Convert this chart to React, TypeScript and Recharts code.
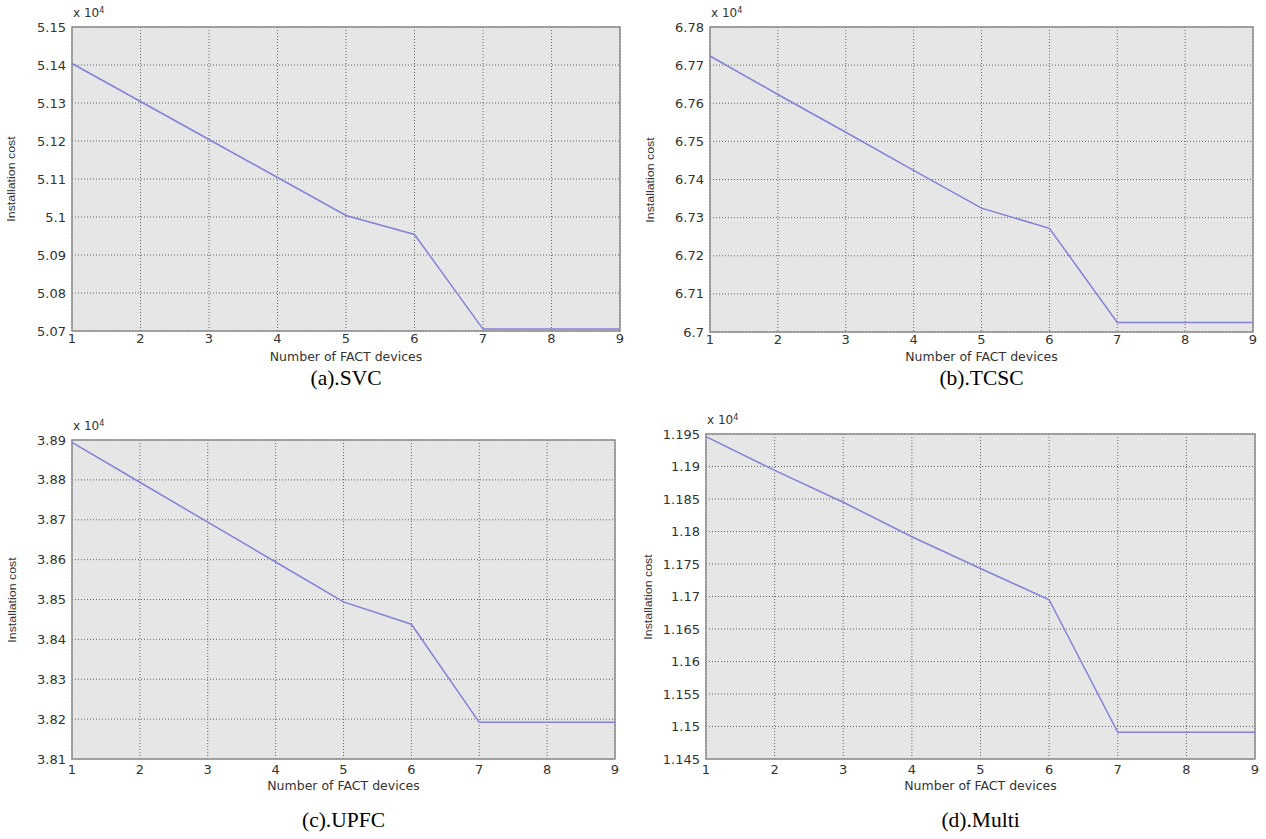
import React from 'react';
import { LineChart, Line, XAxis, YAxis, CartesianGrid, ReferenceArea } from 'recharts';

const deviceCounts = [1, 2, 3, 4, 5, 6, 7, 8, 9];

const svcCost = [5.1404, 5.1304, 5.1204, 5.1104, 5.1004, 5.0954, 5.0705, 5.0705, 5.0705];
const tcscCost = [6.7724, 6.7623, 6.7524, 6.7424, 6.7325, 6.7272, 6.7025, 6.7025, 6.7025];
const upfcCost = [3.8894, 3.8794, 3.8694, 3.8594, 3.8494, 3.8438, 3.8192, 3.8192, 3.8192];
const multiCost = [1.1946, 1.1894, 1.1845, 1.1792, 1.1743, 1.1695, 1.1491, 1.1491, 1.1491];

const svcTicks = [5.07, 5.08, 5.09, 5.1, 5.11, 5.12, 5.13, 5.14, 5.15];
const tcscTicks = [6.7, 6.71, 6.72, 6.73, 6.74, 6.75, 6.76, 6.77, 6.78];
const upfcTicks = [3.81, 3.82, 3.83, 3.84, 3.85, 3.86, 3.87, 3.88, 3.89];
const multiTicks = [1.145, 1.15, 1.155, 1.16, 1.165, 1.17, 1.175, 1.18, 1.185, 1.19, 1.195];

const captions = ['(a).SVC', '(b).TCSC', '(c).UPFC', '(d).Multi'];
const xAxisTitle = 'Number of FACT devices';
const yAxisTitle = 'Installation cost';

const YW = 70;
const XH = 26;
const PAD = 8;

type PanelProps = {
  left: number;
  top: number;
  right: number;
  bottom: number;
  values: number[];
  ticks: number[];
  caption: string;
  xLabelY: number;
  captionY: number;
  yLabelX: number;
  tickGap: number;
};

function Panel({ left, top, right, bottom, values, ticks, caption, xLabelY, captionY, yLabelX, tickGap }: PanelProps) {
  const data = deviceCounts.map((x, i) => ({ x, cost: values[i] }));
  const plotW = right - left;
  const plotH = bottom - top;
  const width = plotW + YW + PAD;
  const height = plotH + PAD + XH;
  const cx = (left + right) / 2;
  const cy = (top + bottom) / 2;
  const yMin = ticks[0];
  const yMax = ticks[ticks.length - 1];
  return (
    <>
      <div style={{ position: 'absolute', left: left - YW, top: top - PAD, width, height }}>
        <LineChart width={width} height={height} data={data} margin={{ top: PAD, right: PAD, bottom: 0, left: 0 }}>
          <CartesianGrid fill="#e6e6e6" stroke="#666" strokeDasharray="1 2" strokeWidth={1} />
          <XAxis
            dataKey="x"
            type="number"
            domain={[1, 9]}
            ticks={deviceCounts}
            height={XH}
            axisLine={false}
            tickLine={false}
            tickSize={tickGap}
            tickMargin={1}
            tick={{ fontSize: 13, fill: '#333', fontFamily: 'DejaVu Sans' }}
          />
          <YAxis
            type="number"
            domain={[yMin, yMax]}
            ticks={ticks}
            allowDataOverflow
            width={YW}
            axisLine={false}
            tickLine={false}
            tickSize={4}
            tickMargin={2}
            tickFormatter={(v: number) => String(v)}
            tick={{ fontSize: 13, fill: '#333', fontFamily: 'DejaVu Sans' }}
          />
          <ReferenceArea x1={1} x2={9} y1={yMin} y2={yMax} fill="none" fillOpacity={0} stroke="#8c8c8c" strokeWidth={1.5} ifOverflow="visible" />
          <Line type="linear" dataKey="cost" stroke="#8282d8" strokeWidth={1.5} dot={false} isAnimationActive={false} />
        </LineChart>
      </div>
      <div style={{ position: 'absolute', left: left + 1, top: top - 21, fontFamily: 'DejaVu Sans', fontSize: 12, color: '#333', whiteSpace: 'nowrap', lineHeight: '15px' }}>
        x 10<sup style={{ fontSize: 8, verticalAlign: 'top', position: 'relative', top: -3 }}>4</sup>
      </div>
      <div style={{ position: 'absolute', left: cx - 200, width: 400, top: xLabelY - 8, lineHeight: '16px', textAlign: 'center', fontFamily: 'DejaVu Sans', fontSize: 12.5, color: '#333', whiteSpace: 'nowrap' }}>
        {xAxisTitle}
      </div>
      <div style={{ position: 'absolute', left: yLabelX - 100, width: 200, top: cy - 7, lineHeight: '14px', textAlign: 'center', fontFamily: 'Liberation Sans', fontSize: 10.5, color: '#333', whiteSpace: 'nowrap', transform: 'rotate(-90deg) scaleX(1.18)' }}>
        {yAxisTitle}
      </div>
      <div style={{ position: 'absolute', left: cx - 200, width: 400, top: captionY - 12, lineHeight: '24px', textAlign: 'center', fontFamily: 'Liberation Serif', fontSize: 21.5, color: '#000', whiteSpace: 'nowrap' }}>
        {caption}
      </div>
    </>
  );
}

export default function App() {
  return (
    <div style={{ position: 'absolute', left: 0, top: 0, width: 1266, height: 839, background: '#fff', overflow: 'hidden' }}>
      <Panel left={72} top={27} right={620} bottom={331} values={svcCost} ticks={svcTicks} caption={captions[0]} xLabelY={357} captionY={378} yLabelX={11} tickGap={2} />
      <Panel left={710} top={27} right={1253} bottom={332} values={tcscCost} ticks={tcscTicks} caption={captions[1]} xLabelY={357} captionY={378} yLabelX={650} tickGap={2} />
      <Panel left={72} top={440} right={615} bottom={759} values={upfcCost} ticks={upfcTicks} caption={captions[2]} xLabelY={786} captionY={820} yLabelX={12} tickGap={5} />
      <Panel left={706} top={434} right={1255} bottom={759} values={multiCost} ticks={multiTicks} caption={captions[3]} xLabelY={786} captionY={820} yLabelX={648} tickGap={5} />
    </div>
  );
}
